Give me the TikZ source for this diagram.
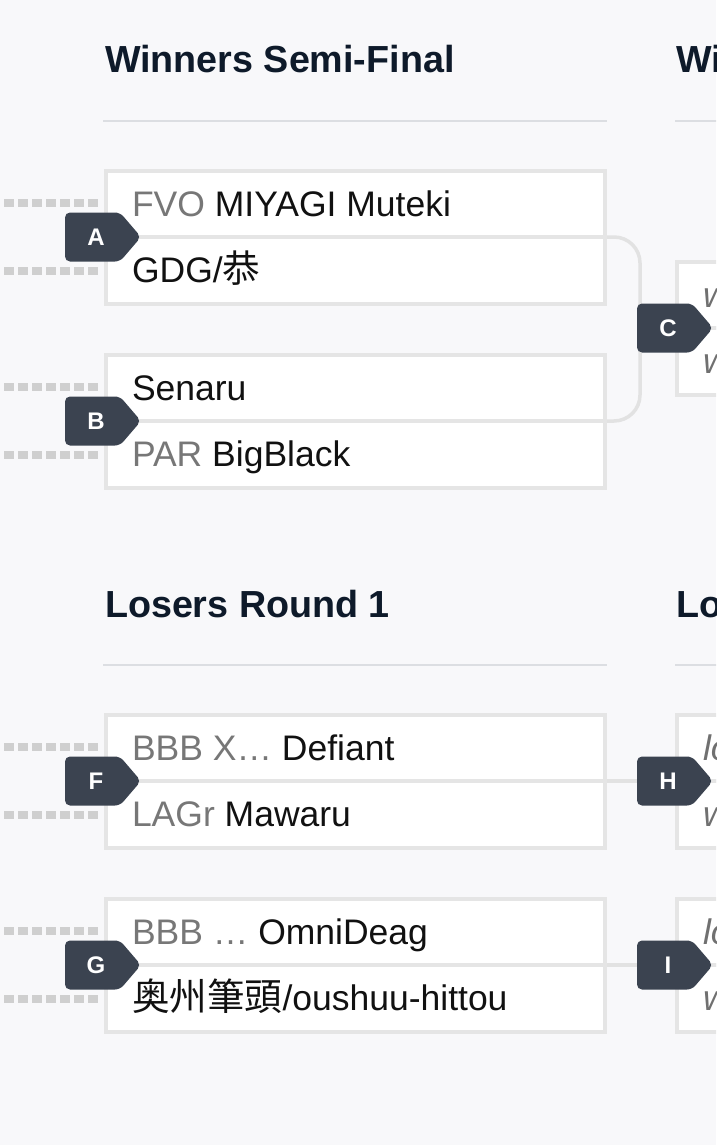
\documentclass[tikz,border=0pt]{standalone}
\usepackage{fontspec}
\setmainfont{Liberation Sans}
\newfontfamily\jpfont[Scale=1.06]{Noto Sans CJK JP}
\definecolor{bg}{HTML}{F8F8FA}
\definecolor{boxline}{HTML}{E5E5E5}
\definecolor{connline}{HTML}{E2E2E2}
\definecolor{rulecol}{HTML}{DCDEE2}
\definecolor{hdrcol}{HTML}{0E1A2A}
\definecolor{txtblack}{HTML}{111111}
\definecolor{prefix}{HTML}{777777}
\definecolor{phgray}{HTML}{707070}
\definecolor{badgefill}{HTML}{3B4350}
\definecolor{dotgray}{HTML}{CFCFCF}
\newcommand\MatchBox[5]{%
  \node[rowbox, minimum height=66pt] (#1top) at (#2,#3) {};
  \node[rowbox, minimum height=67pt] (#1bot) at (#2,#3+66) {};
  \node[rowtext] (#1t1) at (#2+26,#3+45) {#4};
  \node[rowtext] (#1t2) at (#2+26,#3+111) {#5};
}
\newcommand\MatchBadge[4]{%
  \fill[badgefill, rounded corners=5pt] (#2,#3-24.5) -- (#2+55,#3-24.5) -- (#2+76,#3) -- (#2+55,#3+24.5) -- (#2,#3+24.5) -- cycle;
  \coordinate (#1L) at (#2,#3);
  \node[badgetext] (#1) at (#2+31,#3) {#4};
}
\begin{document}
\begin{tikzpicture}[x=1pt,y=-1pt,
  rowbox/.style={draw=boxline, line width=3.5pt, fill=white, rectangle, inner sep=0pt, outer sep=0pt, minimum width=499pt, anchor=north west},
  rowtext/.style={anchor=base west, inner sep=0pt, outer sep=0pt, font=\fontsize{35.5}{40}\selectfont, text=txtblack},
  hdr/.style={anchor=base west, inner sep=0pt, outer sep=0pt, font=\bfseries\fontsize{37.7}{42}\selectfont, text=hdrcol},
  badgetext/.style={text=white, font=\bfseries\fontsize{24}{27}\selectfont, inner sep=0pt},
  rulestyle/.style={draw=rulecol, line width=2pt},
  dots/.style={draw=dotgray, line width=7.5pt, dash pattern=on 10pt off 4pt},
  conn/.style={draw=connline, line width=3.5pt},
]
\clip (0,0) rectangle (716,1145);
\fill[bg] (0,0) rectangle (716,1145);

% headers
\node[hdr] (hWS) at (105,73) {Winners Semi-Final};
\node[hdr] (hWF) at (676,73) {Winners Final};
\node[hdr] (hLR1) at (105,617) {Losers Round 1};
\node[hdr] (hLR2) at (676,617) {Losers Round 2};
\draw[rulestyle] (103,121) -- (607,121);
\draw[rulestyle] (675,121) -- (720,121);
\draw[rulestyle] (103,665) -- (607,665);
\draw[rulestyle] (675,665) -- (720,665);

% connectors
\coordinate (Ccorner) at (640,237);
\draw[conn, rounded corners=26pt] (605,237) -- (Ccorner) |- (605,421);
\draw[conn] (605,781) -- (640,781);
\draw[conn] (605,965) -- (640,965);

% matches, first column
\MatchBox{A}{106}{171}{{\color{prefix}FVO} MIYAGI Muteki}{GDG/{\jpfont 恭}}
\MatchBox{B}{106}{355}{Senaru}{{\color{prefix}PAR} BigBlack}
\MatchBox{F}{106}{715}{{\color{prefix}BBB X…} Defiant}{{\color{prefix}LAGr} Mawaru}
\MatchBox{G}{106}{899}{{\color{prefix}BBB …} OmniDeag}{{\jpfont 奥州筆頭}/oushuu-hittou}

% matches, second column
\MatchBox{C}{677}{262}{\color{phgray}\itshape winner of A}{\color{phgray}\itshape winner of B}
\MatchBox{H}{677}{715}{\color{phgray}\itshape loser of D}{\color{phgray}\itshape winner of F}
\MatchBox{I}{677}{899}{\color{phgray}\itshape loser of E}{\color{phgray}\itshape winner of G}

% incoming dotted lines
\foreach \m/\t in {A/171, B/355, F/715, G/899}{
  \coordinate (\m d1) at (4,\t+32);
  \coordinate (\m d2) at (4,\t+100);
  \draw[dots] (\m d1) -- (98,\t+32);
  \draw[dots] (\m d2) -- (98,\t+100);
}

% badges
\MatchBadge{bA}{65}{237}{A}
\MatchBadge{bB}{65}{421}{B}
\MatchBadge{bC}{637}{328}{C}
\MatchBadge{bF}{65}{781}{F}
\MatchBadge{bG}{65}{965}{G}
\MatchBadge{bH}{637}{781}{H}
\MatchBadge{bI}{637}{965}{I}
\end{tikzpicture}
\end{document}
